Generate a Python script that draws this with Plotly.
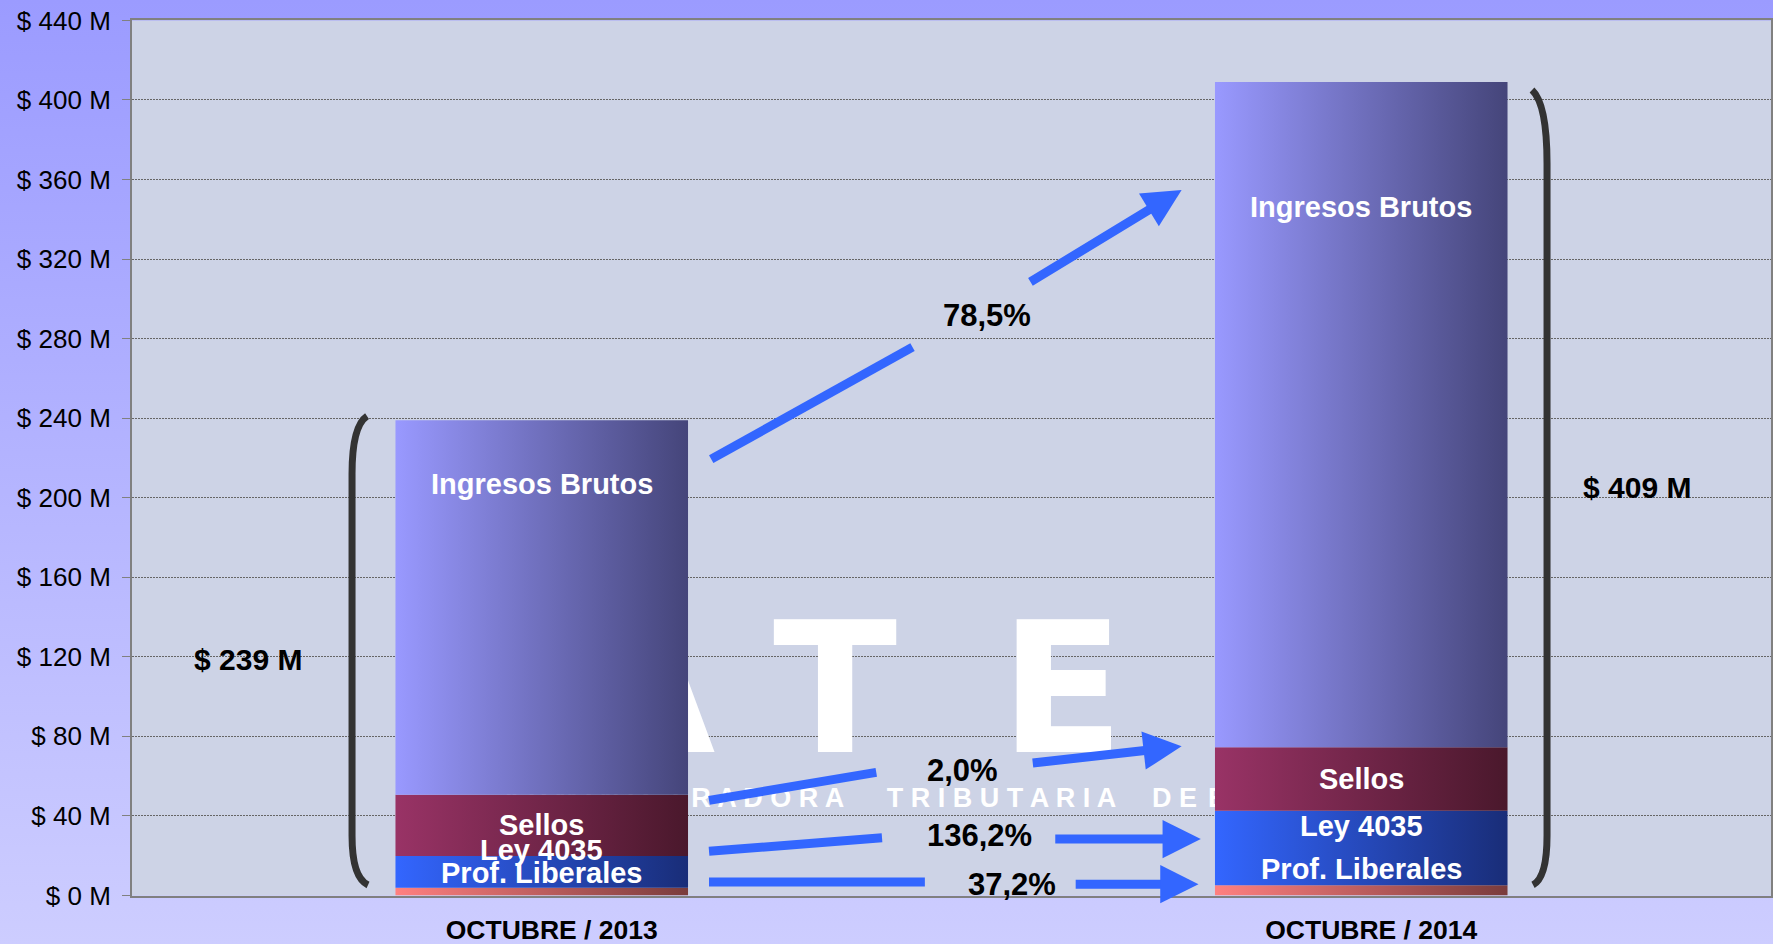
import base64
import plotly.graph_objects as go

# valores en millones de $
categories = ["OCTUBRE / 2013", "OCTUBRE / 2014"]
series = ["Prof. Liberales", "Ley 4035", "Sellos", "Ingresos Brutos"]
prof_liberales = [3.9, 5.1]
ley_4035 = [15.9, 37.5]
sellos = [30.8, 31.9]
ingresos_brutos = [188.4, 334.5]
totals = ["$ 239 M", "$ 409 M"]
growth = ["37,2%", "136,2%", "2,0%", "78,5%"]
y_ticks = list(range(0, 441, 40))
y_tick_labels = [f"$ {v} M" for v in y_ticks]

W, H = 1773, 944
PLOT_L, PLOT_R, PLOT_T, PLOT_B = 132, 1771, 20.4, 895.5
FONT = "Liberation Sans, Arial, sans-serif"
BLUE = "#3366FF"

gradients = {
    "Prof. Liberales": ("#FF8080", "#7A3C3C"),
    "Ley 4035": ("#3366FF", "#192D78"),
    "Sellos": ("#993366", "#4A182C"),
    "Ingresos Brutos": ("#9999FF", "#45457A"),
}
bar_width = 0.357

fig = go.Figure()

# watermark, drawn first so the bars cover it
fig.add_trace(go.Scatter(
    x=[0.126, 0.358, 0.635], y=[95, 95, 95], text=["A", "T", "E"],
    mode="text", textfont=dict(family="DejaVu Sans", size=182, color="white", weight="bold"),
    hoverinfo="skip", showlegend=False,
))
fig.add_trace(go.Scatter(
    x=[0.369, 0.561, 0.772, 0.813], y=[47.8] * 4,
    text=["A D M I N I S T R A D O R A", "T R I B U T A R I A", "D E",
          "E N T R E \u00a0\u00a0R Í O S"],
    textposition=["middle left", "middle center", "middle center", "middle right"],
    mode="text", textfont=dict(family=FONT, size=27, color="white", weight="bold"),
    hoverinfo="skip", showlegend=False,
))

# stacked bars with horizontal gradient
values = [prof_liberales, ley_4035, sellos, ingresos_brutos]
base = [0.0, 0.0]
for name, vals in zip(series, values):
    c0, c1 = gradients[name]
    for i, v in enumerate(vals):
        x0, x1 = i - bar_width / 2, i + bar_width / 2
        y0, y1 = base[i], base[i] + v
        fig.add_trace(go.Scatter(
            x=[x0, x1, x1, x0, x0], y=[y0, y0, y1, y1, y0],
            mode="lines", fill="toself", line=dict(width=0),
            fillgradient=dict(type="horizontal", colorscale=[[0, c0], [1, c1]]),
            name=name, hoverinfo="skip", showlegend=False,
        ))
        base[i] += v

annotations = []

# segment labels
seg_labels = ["Ingresos Brutos", "Sellos", "Ley 4035", "Prof. Liberales"]
label_y = [[207, 35.2, 22.7, 11.4], [346, 58.6, 34.7, 13.1]]
for i in range(2):
    for txt, y in zip(seg_labels, label_y[i]):
        annotations.append(dict(
            x=i, y=y, text=txt, showarrow=False,
            font=dict(family=FONT, size=29, color="white", weight="bold"),
        ))

# totals
for x, y, txt in [(-0.358, 118.8, totals[0]), (1.336, 205.1, totals[1])]:
    annotations.append(dict(
        x=x, y=y, text=txt, showarrow=False,
        font=dict(family=FONT, size=30, color="black", weight="bold"),
    ))

# growth labels
growth_x = [0.574, 0.534, 0.514, 0.543]
growth_y = [5.7, 30.1, 63.1, 291.8]
for x, y, txt in zip(growth_x, growth_y, growth):
    annotations.append(dict(
        x=x, y=y, text=txt, showarrow=False,
        font=dict(family=FONT, size=31, color="black", weight="bold"),
    ))

# arrows: tail segment + head segment around each label
arrow_tails = [
    ((0.2041, 6.8), (0.4675, 6.8)),
    ((0.2041, 22.2), (0.4152, 29.0)),
    ((0.2041, 47.8), (0.4082, 61.9)),
    ((0.2068, 219.4), (0.4524, 275.7)),
]
arrow_heads = [
    ((0.6497, 5.7), (0.8014, 5.7)),
    ((0.6248, 28.4), (0.8042, 28.4)),
    ((0.5973, 66.5), (0.7808, 75.0)),
    ((0.5945, 308.1), (0.7808, 354.7)),
]
shapes = []
for (xa, ya), (xb, yb) in arrow_tails:
    shapes.append(dict(type="line", xref="x", yref="y", x0=xa, y0=ya, x1=xb, y1=yb,
                       line=dict(color=BLUE, width=9)))
for (xa, ya), (xb, yb) in arrow_heads:
    annotations.append(dict(
        x=xb, y=yb, ax=xa, ay=ya, xref="x", yref="y", axref="x", ayref="y",
        text="", showarrow=True, arrowhead=2, arrowsize=0.85, arrowwidth=9,
        arrowcolor=BLUE, standoff=0,
    ))

# brackets
shapes.append(dict(
    type="path", xref="x", yref="y",
    path="M -0.2132,241 Q -0.2315,236 -0.2315,212 L -0.2315,30 Q -0.2315,9 -0.212,5.3",
    line=dict(color="#333333", width=7),
))
shapes.append(dict(
    type="path", xref="x", yref="y",
    path="M 1.2084,405 Q 1.2267,398 1.2267,368 L 1.2267,30 Q 1.2267,9 1.2096,5.3",
    line=dict(color="#333333", width=7),
))

# page background (vertical gradient) + plot area fill
bg_svg = (
    f'<svg xmlns="http://www.w3.org/2000/svg" width="{W}" height="{H}" viewBox="0 0 {W} {H}" '
    'preserveAspectRatio="none"><defs><linearGradient id="g" x1="0" y1="0" x2="0" y2="1">'
    '<stop offset="0" stop-color="#9B9BFF"/><stop offset="1" stop-color="#CDCDFF"/>'
    f'</linearGradient></defs><rect width="{W}" height="{H}" fill="url(#g)"/>'
    f'<rect x="{PLOT_L}" y="{PLOT_T}" width="{PLOT_R - PLOT_L}" height="{PLOT_B - PLOT_T}" '
    'fill="#CDD3E6"/></svg>'
)
bg_src = "data:image/svg+xml;base64," + base64.b64encode(bg_svg.encode()).decode()

fig.update_layout(
    width=W, height=H,
    margin=dict(l=0, r=0, t=0, b=0),
    paper_bgcolor="#B4B4FF",
    plot_bgcolor="rgba(0,0,0,0)",
    showlegend=False,
    annotations=annotations,
    shapes=shapes,
    images=[dict(source=bg_src, xref="paper", yref="paper", x=0, y=1, sizex=1, sizey=1,
                 xanchor="left", yanchor="top", sizing="stretch", layer="below")],
    xaxis=dict(
        domain=[PLOT_L / W, PLOT_R / W], range=[-0.5, 1.5],
        tickvals=[0, 1], ticktext=categories,
        showgrid=False, zeroline=False,
        showline=True, linecolor="#808080", linewidth=2, mirror=True,
        ticks="", ticklabelstandoff=10, ticklabelshift=10, automargin=False,
        tickfont=dict(family=FONT, size=26.5, color="black", weight="bold"),
    ),
    yaxis=dict(
        domain=[(H - PLOT_B) / H, (H - PLOT_T) / H], range=[0, 440],
        tickvals=y_ticks, ticktext=y_tick_labels,
        showgrid=True, gridcolor="#666666", gridwidth=1, griddash="2px,1px",
        zeroline=False,
        showline=True, linecolor="#808080", linewidth=2, mirror=True,
        ticks="outside", ticklen=8, tickcolor="#808080", ticklabelstandoff=6,
        automargin=False,
        tickfont=dict(family=FONT, size=26, color="black"),
    ),
)

fig.write_html("out.html", config={"displayModeBar": False},
               post_script="document.body.style.margin = '0px';")
